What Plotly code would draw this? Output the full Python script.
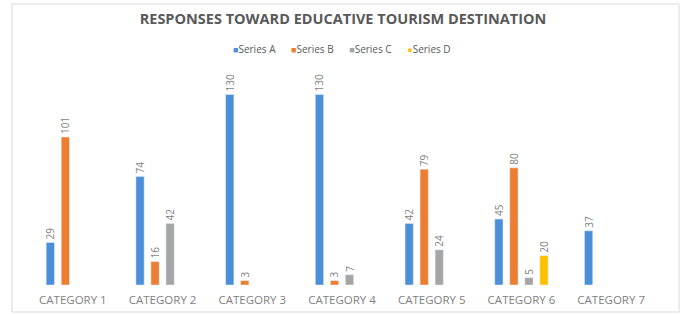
import plotly.graph_objects as go

categories = ["CATEGORY 1", "CATEGORY 2", "CATEGORY 3", "CATEGORY 4", "CATEGORY 5", "CATEGORY 6", "CATEGORY 7"]
series_a = [29, 74, 130, 130, 42, 45, 37]
series_b = [101, 16, 3, 3, 79, 80, None]
series_c = [None, 42, None, 7, 24, 5, None]
series_d = [None, None, None, None, None, 20, None]
series_names = ["Series A", "Series B", "Series C", "Series D"]
colors = ["#4A8FD8", "#ED7D31", "#A5A5A5", "#FFC000"]
legend_symbols = ["■", "■", "■", "●"]

W, H = 686, 314
L, R, T, B = 28, 30, 75, 29

fig = go.Figure()
for name, vals, col in zip(series_names, [series_a, series_b, series_c, series_d], colors):
    fig.add_trace(go.Bar(
        x=categories, y=vals, name=name, marker_color=col,
        text=[("" if v is None else str(v)) for v in vals],
        textposition="outside", textangle=-90, constraintext="none",
        textfont=dict(size=10, color="#7F7F7F", family="Open Sans"),
        cliponaxis=False, showlegend=False,
    ))

pw = W - L - R
ph = H - T - B
def px_x(p):
    return (p - L) / pw
def px_y(p):
    return (H - B - p) / ph

legend_text = "&nbsp;&nbsp;&nbsp;&nbsp;&nbsp;&nbsp;".join(
    f"<span style='color:{c};font-size:9px'>{s}</span>{n}" for s, c, n in zip(legend_symbols, colors, series_names)
)

fig.update_layout(
    width=W, height=H,
    margin=dict(l=L, r=R, t=T, b=B, autoexpand=False),
    paper_bgcolor="white", plot_bgcolor="white",
    barmode="group", bargap=0.33, bargroupgap=0.45,
    title=dict(text="<b>RESPONSES TOWARD EDUCATIVE TOURISM DESTINATION</b>",
               x=0.5, xanchor="center", y=1 - 19 / H, yanchor="middle",
               font=dict(size=14.5, color="#595959", family="Open Sans")),
    annotations=[dict(text=legend_text, xref="paper", yref="paper",
                      x=px_x(342), y=px_y(49), xanchor="center", yanchor="middle",
                      showarrow=False, font=dict(size=10, color="#595959", family="Open Sans"))],
    xaxis=dict(showgrid=False, showline=False, ticks="", automargin=False,
               ticklabelstandoff=6,
               tickfont=dict(size=11.5, color="#7F7F7F", family="Open Sans")),
    yaxis=dict(range=[0, ph / 1.465], visible=False, showgrid=False),
    font=dict(family="Open Sans"),
    shapes=[dict(type="rect", xref="paper", yref="paper",
                 x0=px_x(12), x1=px_x(679), y0=px_y(312), y1=px_y(4),
                 line=dict(color="#D9D9D9", width=1), fillcolor="rgba(0,0,0,0)", layer="below")],
)

fig.write_html("out.html", config={"displayModeBar": False},
               post_script="document.body.style.margin='0';")
